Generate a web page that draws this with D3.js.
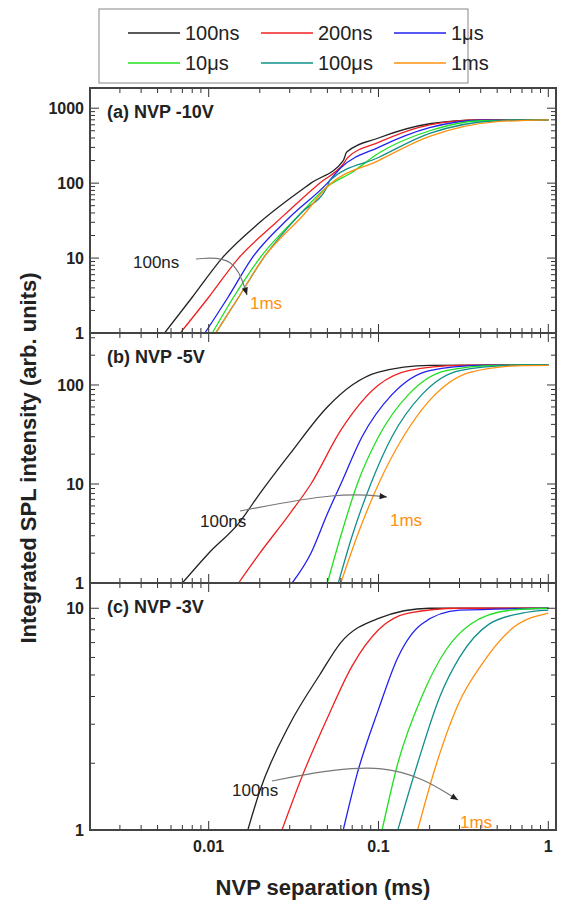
<!DOCTYPE html><html><head><script src="https://cdn.jsdelivr.net/npm/d3@7"></script>
<style>body{margin:0;background:#fff}text{font-family:"Liberation Sans",Arial,sans-serif}</style></head><body>
<svg id="c" width="569" height="917"></svg>
<script>
const seriesNames=["100ns","200ns","1\u03bcs","10\u03bcs","100\u03bcs","1ms"];
const colors=["#222","#f02020","#2020f0","#20e020","#10908a","#ff9010"];
const xTicks=[0.01,0.1,1];
const panelA=[
[[0.0055,1],[0.008,3],[0.012,10],[0.02,30],[0.04,100],[0.062,200],[0.065,260],[0.1,400],[0.2,620],[0.4,700],[1,700]],
[[0.0068,1],[0.01,3],[0.015,10],[0.025,30],[0.045,100],[0.062,180],[0.066,220],[0.1,350],[0.2,600],[0.4,700],[1,700]],
[[0.0095,1],[0.013,3],[0.018,10],[0.03,35],[0.05,100],[0.06,160],[0.1,300],[0.2,550],[0.4,690],[1,700]],
[[0.0105,1],[0.014,3],[0.02,10],[0.035,40],[0.05,90],[0.07,140],[0.1,250],[0.2,500],[0.4,680],[1,700]],
[[0.011,1],[0.015,3],[0.021,10],[0.035,40],[0.05,90],[0.052,110],[0.1,220],[0.2,460],[0.5,680],[1,700]],
[[0.011,1],[0.015,3],[0.021,10],[0.037,40],[0.05,90],[0.1,200],[0.2,420],[0.5,660],[1,700]]];
const panelB=[
[[0.007,1],[0.01,2],[0.015,4],[0.02,8],[0.03,20],[0.05,60],[0.07,100],[0.1,135],[0.2,158],[1,160]],
[[0.015,1],[0.02,2],[0.03,5],[0.04,10],[0.06,35],[0.1,100],[0.15,140],[0.3,158],[1,160]],
[[0.031,1],[0.04,2],[0.05,5],[0.06,10],[0.08,30],[0.12,80],[0.2,140],[0.4,158],[1,160]],
[[0.05,1],[0.06,3],[0.075,10],[0.1,30],[0.15,80],[0.25,140],[0.5,158],[1,160]],
[[0.058,1],[0.07,3],[0.09,10],[0.12,30],[0.18,80],[0.3,140],[0.6,158],[1,160]],
[[0.06,1],[0.075,3],[0.1,10],[0.14,30],[0.2,70],[0.35,135],[0.7,157],[1,158]]];
const panelC=[
[[0.017,1],[0.02,1.5],[0.03,3],[0.045,5],[0.06,7],[0.1,9],[0.2,10],[1,10]],
[[0.027,1],[0.035,1.7],[0.05,3.2],[0.07,5.5],[0.1,8],[0.15,9.5],[0.3,10],[1,10]],
[[0.062,1],[0.075,1.8],[0.1,3.5],[0.13,6],[0.18,8.5],[0.3,9.8],[1,10]],
[[0.105,1],[0.13,2],[0.18,4],[0.25,6.5],[0.35,8.5],[0.6,9.8],[1,10]],
[[0.13,1],[0.17,2],[0.23,4],[0.3,6],[0.45,8.5],[0.7,9.5],[1,9.8]],
[[0.17,1],[0.22,2],[0.3,3.8],[0.4,5.5],[0.6,8],[1,9.5]]];
const panels=[
{data:panelA,title:"(a) NVP -10V",y0:88,y1:333,dom:[1,1860],ticks:[1,10,100,1000],
 ann:{l:[133,268],a:[[196,259],[235,256],[247,295]],e:[250,309]}},
{data:panelB,title:"(b) NVP -5V",y0:333,y1:583,dom:[1,335],ticks:[1,10,100],
 ann:{l:[200,527],a:[[240,511],[340,492],[387,497]],e:[390,526]}},
{data:panelC,title:"(c) NVP -3V",y0:583,y1:830,dom:[1,13],ticks:[1,10],
 ann:{l:[232,796],a:[[272,781],[390,758],[458,800]],e:[460,828]}}];
const svg=d3.select("#c"),L=90,R=556;
const x=d3.scaleLog().domain([0.002,1.11]).range([L,R]);
const minor=[];for(let d=-3;d<=0;d++)for(let k=1;k<10;k++){const v=k*Math.pow(10,d);if(v>=0.002&&v<=1.11)minor.push(v);}
panels.forEach(p=>{
 const y=d3.scaleLog().domain(p.dom).range([p.y1,p.y0]);
 const g=svg.append("g");
 g.append("defs").append("clipPath").attr("id","cl"+p.y0).append("rect").attr("x",L).attr("y",p.y0).attr("width",R-L).attr("height",p.y1-p.y0);
 const line=d3.line().curve(d3.curveMonotoneX).x(d=>x(d[0])).y(d=>y(d[1]));
 p.data.forEach((s,i)=>g.append("path").attr("d",line(s)).attr("clip-path","url(#cl"+p.y0+")").attr("fill","none").attr("stroke",colors[i]).attr("stroke-width",1.3));
 [p.y1,p.y0].forEach((yy,j)=>{
  minor.forEach(v=>{const big=xTicks.includes(v);g.append("line").attr("x1",x(v)).attr("x2",x(v)).attr("y1",yy).attr("y2",yy+(j?1:-1)*(big?9:5)).attr("stroke","#333");});
 });
 const yminor=[];for(let d=0;d<4;d++)for(let k=1;k<10;k++){const v=k*Math.pow(10,d);if(v>=p.dom[0]&&v<=p.dom[1])yminor.push(v);}
 [L,R].forEach((xx,j)=>yminor.forEach(v=>{const big=p.ticks.includes(v);g.append("line").attr("y1",y(v)).attr("y2",y(v)).attr("x1",xx).attr("x2",xx+(j?-1:1)*(big?9:5)).attr("stroke","#333");}));
 g.append("rect").attr("x",L).attr("y",p.y0).attr("width",R-L).attr("height",p.y1-p.y0).attr("fill","none").attr("stroke","#444").attr("stroke-width",2);
 p.ticks.forEach(v=>g.append("text").attr("x",L-6).attr("y",y(v)+6).attr("text-anchor","end").attr("font-size",16).attr("font-weight","bold").attr("fill","#222").text(v));
 g.append("text").attr("x",107).attr("y",p.y0+30).attr("font-size",18).attr("font-weight","bold").attr("fill","#222").text(p.title);
 const a=p.ann;
 g.append("text").attr("x",a.l[0]).attr("y",a.l[1]).attr("font-size",17).attr("fill","#222").text("100ns");
 g.append("path").attr("d",d3.line().curve(d3.curveBasis)(a.a)).attr("fill","none").attr("stroke","#777").attr("stroke-width",1.2);
 const n=a.a.length,p1=a.a[n-2],p2=a.a[n-1],ang=Math.atan2(p2[1]-p1[1],p2[0]-p1[0]);
 g.append("path").attr("d",`M${p2[0]},${p2[1]}l${-8*Math.cos(ang-0.4)},${-8*Math.sin(ang-0.4)}l${8*Math.cos(ang-0.4)-8*Math.cos(ang+0.4)},${8*Math.sin(ang-0.4)-8*Math.sin(ang+0.4)}z`).attr("fill","#222");
 g.append("text").attr("x",a.e[0]).attr("y",a.e[1]).attr("font-size",17).attr("fill","#ff9010").text("1ms");
});
[0.01,0.1,1].forEach(v=>svg.append("text").attr("x",x(v)).attr("y",852).attr("text-anchor","middle").attr("font-size",16).attr("font-weight","bold").attr("fill","#222").text(v));
svg.append("text").attr("x",323).attr("y",895).attr("text-anchor","middle").attr("font-size",22).attr("font-weight","bold").attr("fill","#222").text("NVP separation (ms)");
svg.append("text").attr("transform","translate(36,458) rotate(-90)").attr("text-anchor","middle").attr("font-size",22).attr("font-weight","bold").attr("fill","#222").text("Integrated SPL intensity (arb. units)");
svg.append("rect").attr("x",99).attr("y",9).attr("width",369).attr("height",74).attr("fill","#fff").attr("stroke","#888");
seriesNames.forEach((s,i)=>{const c=i%3,r=Math.floor(i/3),lx=128+c*133,ly=33+r*30;
 svg.append("line").attr("x1",lx).attr("x2",lx+52).attr("y1",ly).attr("y2",ly).attr("stroke",colors[i]).attr("stroke-width",1.3);
 svg.append("text").attr("x",lx+57).attr("y",ly+7).attr("font-size",20).attr("fill","#222").text(s);});
</script></body></html>
